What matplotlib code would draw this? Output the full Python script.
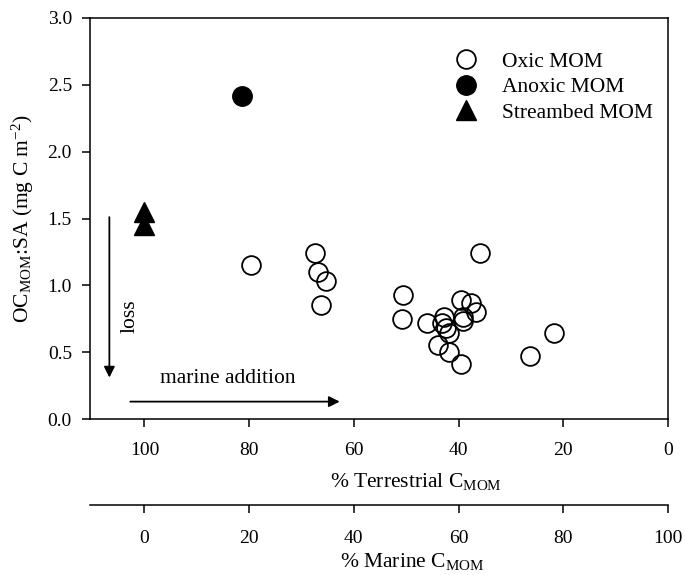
import matplotlib

matplotlib.use("Agg")
import matplotlib.pyplot as plt

plt.rcParams["font.family"] = ["Liberation Serif", "DejaVu Serif"]
plt.rcParams["mathtext.fontset"] = "custom"
plt.rcParams["mathtext.rm"] = "Liberation Serif"
plt.rcParams["mathtext.it"] = "Liberation Serif:italic"
plt.rcParams["font.size"] = 14

LABEL_FS = 15.5

# % terrestrial C_MOM vs OC_MOM:SA (mg C m-2)
oxic_terr = [79.6, 67.4, 66.9, 65.3, 66.3, 50.6, 50.8, 36.0, 21.8, 26.4,
             46.0, 39.6, 37.6, 36.7, 39.2, 42.7, 43.1, 42.4, 41.8, 44.0,
             41.8, 39.6, 39.2]
oxic_ocsa = [1.15, 1.24, 1.10, 1.03, 0.85, 0.93, 0.75, 1.24, 0.64, 0.47,
             0.72, 0.89, 0.865, 0.80, 0.765, 0.765, 0.715, 0.68, 0.64, 0.553,
             0.503, 0.41, 0.73]
anoxic_terr = [81.3]
anoxic_ocsa = [2.42]
stream_terr = [100.0, 100.0]
stream_ocsa = [1.55, 1.45]

terr_ticks = [100, 80, 60, 40, 20, 0]
marine_ticks = [0, 20, 40, 60, 80, 100]
y_ticks = [0.0, 0.5, 1.0, 1.5, 2.0, 2.5, 3.0]

fig = plt.figure(figsize=(6.85, 5.75), dpi=100)
ax = fig.add_axes([90 / 685, 1 - 419 / 575, 578 / 685, 401 / 575])

ax.plot(oxic_terr, oxic_ocsa, "o", ms=13.5, mfc="none", mec="black", mew=1.3,
        ls="none", label="Oxic MOM")
ax.plot(anoxic_terr, anoxic_ocsa, "o", ms=14, color="black", ls="none",
        label="Anoxic MOM")
ax.plot(stream_terr, stream_ocsa, "^", ms=14, color="black", ls="none",
        label="Streambed MOM")

ax.set_xlim(110.4, 0)
ax.set_ylim(0, 3.0)
ax.set_xticks(terr_ticks)
ax.set_yticks(y_ticks)
ax.yaxis.set_major_formatter(matplotlib.ticker.FormatStrFormatter("%.1f"))
ax.tick_params(direction="out", length=6, width=1.1)
ax.tick_params(axis="x", pad=10.5)
ax.tick_params(axis="y", pad=7)
for s in ax.spines.values():
    s.set_linewidth(1.1)

ax.set_ylabel(r"OC$_{\mathrm{MOM}}$:SA (mg C m$^{-2}$)", fontsize=LABEL_FS)
ax.yaxis.set_label_coords(-0.093, 0.5)
ax.set_xlabel(r"% Terrestrial C$_{\mathrm{MOM}}$", fontsize=LABEL_FS)
ax.xaxis.set_label_coords(0.564, -0.13)

# second scale: marine share is the complement of the terrestrial one
sec = ax.secondary_xaxis(-0.215, functions=(lambda t: 100 - t, lambda m: 100 - m))
sec.set_xticks(marine_ticks)
sec.tick_params(direction="out", length=6, width=1.1, pad=11.5)
sec.spines["bottom"].set_linewidth(1.1)
sec.set_xlabel(r"% Marine C$_{\mathrm{MOM}}$", fontsize=LABEL_FS)
sec.xaxis.set_label_coords(0.557, -0.33, transform=ax.transAxes)

# process arrows
ax.annotate("", xy=(106.7, 0.31), xytext=(106.7, 1.51),
            arrowprops=dict(arrowstyle="-|>", color="black", lw=1.3,
                            mutation_scale=16, shrinkA=0, shrinkB=0))
ax.text(102.7, 0.77, "loss", rotation=90, ha="center", va="center",
        fontsize=LABEL_FS)
ax.annotate("", xy=(62.7, 0.13), xytext=(102.7, 0.13),
            arrowprops=dict(arrowstyle="-|>", color="black", lw=1.3,
                            mutation_scale=16, shrinkA=0, shrinkB=0))
ax.text(84, 0.30, "marine addition", ha="center", va="center",
        fontsize=LABEL_FS)

ax.legend(loc="upper left", bbox_to_anchor=(0.623, 0.916), frameon=False,
          borderaxespad=0, borderpad=0, handlelength=1.5, handletextpad=0.93,
          labelspacing=0.25, numpoints=1, fontsize=LABEL_FS)

fig.savefig("out.png", dpi=100)
